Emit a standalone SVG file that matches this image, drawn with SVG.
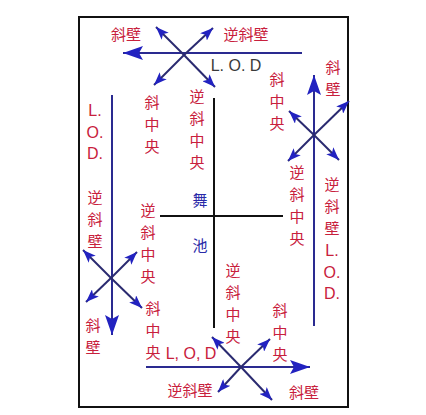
<svg xmlns="http://www.w3.org/2000/svg" width="426" height="415" viewBox="0 0 426 415">
<style>
.t{font-family:"Noto Sans CJK SC","Liberation Sans",sans-serif;font-size:15px;fill:#c8203c;text-anchor:middle;dominant-baseline:central}
.l{font-family:"Liberation Sans",sans-serif;font-size:16px;fill:#c8203c;text-anchor:middle;dominant-baseline:central}
.main{stroke:#2a2a90;stroke-width:2;fill:none}
.diag{stroke:#2a2a70;stroke-width:2;fill:none}
.blk{stroke:#111;stroke-width:2;fill:none}
</style>
<defs>
<marker id="big" markerUnits="userSpaceOnUse" markerWidth="22" markerHeight="14" refX="20" refY="7" orient="auto">
<path d="M0,0 L20,7 L0,14 L4,7 z" fill="#2222c0"/>
</marker>
<marker id="sm" markerUnits="userSpaceOnUse" markerWidth="14" markerHeight="10" refX="13" refY="5" orient="auto">
<path d="M0,0 L13,5 L0,10 L3,5 z" fill="#2222c0"/>
</marker>
</defs>
<rect width="426" height="415" fill="#fff"/>
<g id="border"><rect x="79" y="17" width="269" height="390" class="blk"/></g>
<g id="floor">
<line x1="214" y1="98" x2="214" y2="328" class="blk"/>
<line x1="160" y1="216" x2="283" y2="216" class="blk"/>
<text class="t" x="200" y="199" style="fill:#2a2aa8">舞</text>
<text class="t" x="200" y="244" style="fill:#2a2aa8">池</text>
</g>
<g id="connectors">
<line x1="302" y1="53" x2="123" y2="53" class="main" marker-end="url(#big)"/>
<line x1="112" y1="95" x2="112" y2="335" class="main" marker-end="url(#big)"/>
<line x1="146" y1="367" x2="310" y2="367" class="main" marker-end="url(#big)"/>
<line x1="314" y1="326" x2="314" y2="75" class="main" marker-end="url(#big)"/>
<line x1="184" y1="55" x2="156" y2="27" class="diag" marker-end="url(#sm)"/>
<line x1="184" y1="55" x2="213" y2="28" class="diag" marker-end="url(#sm)"/>
<line x1="184" y1="55" x2="154" y2="85" class="diag" marker-end="url(#sm)"/>
<line x1="184" y1="55" x2="215" y2="87" class="diag" marker-end="url(#sm)"/>
<line x1="111" y1="278" x2="83" y2="250" class="diag" marker-end="url(#sm)"/>
<line x1="111" y1="278" x2="137" y2="252" class="diag" marker-end="url(#sm)"/>
<line x1="111" y1="278" x2="86" y2="302" class="diag" marker-end="url(#sm)"/>
<line x1="111" y1="278" x2="142" y2="308" class="diag" marker-end="url(#sm)"/>
<line x1="241" y1="367" x2="212" y2="337" class="diag" marker-end="url(#sm)"/>
<line x1="241" y1="367" x2="270" y2="339" class="diag" marker-end="url(#sm)"/>
<line x1="241" y1="367" x2="218" y2="392" class="diag" marker-end="url(#sm)"/>
<line x1="241" y1="367" x2="272" y2="400" class="diag" marker-end="url(#sm)"/>
<line x1="314" y1="135" x2="289" y2="111" class="diag" marker-end="url(#sm)"/>
<line x1="314" y1="135" x2="349" y2="101" class="diag" marker-end="url(#sm)"/>
<line x1="314" y1="135" x2="288" y2="161" class="diag" marker-end="url(#sm)"/>
<line x1="314" y1="135" x2="339" y2="160" class="diag" marker-end="url(#sm)"/>
</g>
<g id="top">
<text class="t" x="126" y="33">斜壁</text>
<text class="t" x="246" y="33">逆斜壁</text>
<text class="l" x="236" y="65" style="fill:#3a3a3a">L. O. D</text>
<text class="t"><tspan x="152" y="101">斜</tspan><tspan x="152" y="123">中</tspan><tspan x="152" y="145">央</tspan></text>
<text class="t"><tspan x="197" y="95">逆</tspan><tspan x="197" y="117">斜</tspan><tspan x="197" y="139">中</tspan><tspan x="197" y="161">央</tspan></text>
</g>
<g id="left">
<text class="l"><tspan x="95" y="110">L.</tspan><tspan x="95" y="132">O.</tspan><tspan x="95" y="153">D.</tspan></text>
<text class="t"><tspan x="95" y="196">逆</tspan><tspan x="95" y="218">斜</tspan><tspan x="95" y="240">壁</tspan></text>
<text class="t"><tspan x="93" y="324">斜</tspan><tspan x="93" y="346">壁</tspan></text>
<text class="t"><tspan x="148" y="209">逆</tspan><tspan x="148" y="231">斜</tspan><tspan x="148" y="253">中</tspan><tspan x="148" y="275">央</tspan></text>
<text class="t"><tspan x="153" y="307">斜</tspan><tspan x="153" y="329">中</tspan><tspan x="153" y="351">央</tspan></text>
</g>
<g id="bottom">
<text class="l" x="191" y="353">L, O, D</text>
<text class="t" x="190" y="389">逆斜壁</text>
<text class="t" x="304" y="391">斜壁</text>
<text class="t"><tspan x="233" y="269">逆</tspan><tspan x="233" y="291">斜</tspan><tspan x="233" y="313">中</tspan><tspan x="233" y="335">央</tspan></text>
<text class="t"><tspan x="280" y="309">斜</tspan><tspan x="280" y="331">中</tspan><tspan x="280" y="353">央</tspan></text>
</g>
<g id="right">
<text class="t"><tspan x="277" y="78">斜</tspan><tspan x="277" y="100">中</tspan><tspan x="277" y="122">央</tspan></text>
<text class="t"><tspan x="333" y="66">斜</tspan><tspan x="333" y="88">壁</tspan></text>
<text class="t"><tspan x="297" y="171">逆</tspan><tspan x="297" y="193">斜</tspan><tspan x="297" y="215">中</tspan><tspan x="297" y="237">央</tspan></text>
<text class="t"><tspan x="332" y="183">逆</tspan><tspan x="332" y="205">斜</tspan><tspan x="332" y="227">壁</tspan></text>
<text class="l"><tspan x="332" y="250">L.</tspan><tspan x="332" y="272">O.</tspan><tspan x="332" y="293">D.</tspan></text>
</g>
</svg>
